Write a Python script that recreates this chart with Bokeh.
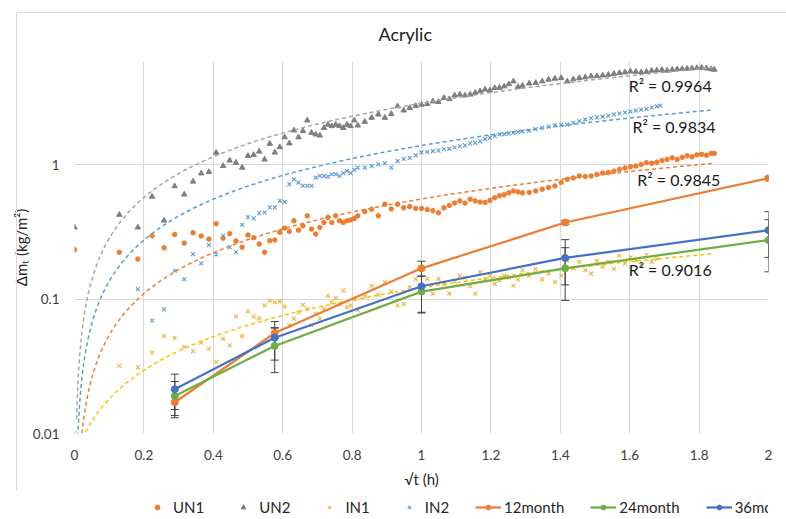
import numpy as np
from bokeh.plotting import figure
from bokeh.layouts import column
from bokeh.models import (ColumnDataSource, Range1d, FixedTicker, Legend, LegendItem,
                          Whisker, TeeHead, Label, InlineStyleSheet)
from bokeh.embed import file_html
from bokeh.resources import INLINE

# ---------------- data ----------------
# elapsed time in minutes; x axis is sqrt(t) with t in hours
un_minutes = list(range(0, 41)) + list(range(42, 101, 2)) + list(range(103, 203, 3)) + [204]
un1_vals = [0.234, 0.224, 0.199, 0.297, 0.242, 0.304, 0.262, 0.313, 0.296, 0.281,
            0.365, 0.285, 0.308, 0.272, 0.244, 0.301, 0.287, 0.258, 0.224, 0.273,
            0.276, 0.315, 0.339, 0.320, 0.384, 0.327, 0.352, 0.418, 0.333, 0.306,
            0.343, 0.373, 0.407, 0.373, 0.418, 0.384, 0.373, 0.384, 0.390, 0.400, 0.418,
            0.450, 0.469, 0.418, 0.511, 0.470, 0.510, 0.480, 0.490, 0.475, 0.475,
            0.465, 0.456, 0.440, 0.480, 0.500, 0.520, 0.540, 0.520, 0.556, 0.540,
            0.530, 0.526, 0.545, 0.570, 0.589, 0.600, 0.620, 0.641, 0.630, 0.620,
            0.625, 0.641, 0.660, 0.680, 0.698, 0.740, 0.783, 0.800, 0.829, 0.820,
            0.829, 0.850, 0.870, 0.878, 0.900, 0.929, 0.950, 0.970, 0.983, 1.010,
            1.040, 1.030, 1.050, 1.080, 1.100, 1.130, 1.100, 1.140, 1.170, 1.150,
            1.190, 1.200, 1.180, 1.220, 1.220]
un2_vals = [0.343, 0.426, 0.343, 0.582, 0.386, 0.695, 0.603, 0.753, 0.867, 0.887,
            1.236, 0.983, 1.08, 1.04, 0.956, 1.17, 1.19, 1.26, 1.10, 1.44,
            1.24, 1.36, 1.61, 1.45, 1.81, 1.61, 1.79, 2.15, 1.74, 1.69,
            1.66, 1.89, 2.00, 1.95, 2.00, 1.95, 1.89, 2.00, 1.95, 2.15, 1.97,
            2.10, 2.25, 2.38, 2.25, 2.40, 2.74, 2.55, 2.66, 2.75, 2.82,
            2.85, 2.98, 2.95, 3.16, 3.10, 3.30, 3.35, 3.30, 3.35, 3.45,
            3.55, 3.65, 3.60, 3.75, 3.76, 3.85, 4.00, 4.20, 3.82, 3.90,
            4.05, 4.09, 4.20, 4.33, 4.40, 4.45, 4.20, 4.35, 4.45, 4.50,
            4.58, 4.60, 4.65, 4.70, 4.78, 4.85, 4.90, 4.98, 4.95, 4.90,
            4.95, 5.05, 5.07, 5.10, 5.05, 5.13, 5.18, 5.20, 5.22, 5.25,
            5.28, 5.30, 5.25, 5.18, 5.13]

in1_minutes = list(range(0, 41)) + list(range(42, 101, 2)) + list(range(103, 170, 3))
in1_vals = [0.0101, 0.0319, 0.0311, 0.040, 0.0532, 0.0516, 0.0441, 0.0409, 0.0475, 0.0428,
            0.034, 0.0508, 0.0453, 0.0744, 0.0532, 0.0811, 0.0744, 0.072, 0.0898, 0.0978,
            0.095, 0.0965, 0.088, 0.0638, 0.0716, 0.080, 0.091, 0.085, 0.064, 0.078,
            0.0716, 0.085, 0.106, 0.095, 0.102, 0.092, 0.116, 0.087, 0.090, 0.100, 0.083,
            0.105, 0.126, 0.108, 0.134, 0.114, 0.090, 0.092, 0.123, 0.142, 0.120,
            0.142, 0.110, 0.142, 0.130, 0.110, 0.135, 0.150, 0.145, 0.125, 0.110,
            0.159, 0.142, 0.150, 0.130, 0.138, 0.150, 0.145, 0.126, 0.140, 0.164,
            0.150, 0.168, 0.140, 0.155, 0.134, 0.150, 0.194, 0.170, 0.190, 0.165,
            0.155, 0.194, 0.175, 0.190, 0.168, 0.211, 0.185, 0.205, 0.195, 0.180,
            0.213, 0.190, 0.200]

in2_minutes = list(range(2, 41)) + list(range(42, 101, 2)) + list(range(103, 170, 3)) + [171]
in2_vals = [0.119, 0.0695, 0.084, 0.163, 0.141, 0.217, 0.185, 0.253,
            0.216, 0.297, 0.244, 0.224, 0.359, 0.409, 0.400, 0.438, 0.443, 0.483,
            0.483, 0.541, 0.531, 0.719, 0.783, 0.740, 0.700, 0.700, 0.700, 0.806,
            0.830, 0.830, 0.820, 0.853, 0.853, 0.830, 0.870, 0.903, 0.870, 0.920, 0.956,
            0.956, 0.980, 1.010, 1.030, 0.956, 1.070, 1.110, 1.130, 1.180, 1.240,
            1.250, 1.270, 1.280, 1.310, 1.320, 1.350, 1.380, 1.400, 1.450, 1.460,
            1.500, 1.560, 1.600, 1.640, 1.690, 1.700, 1.720, 1.740, 1.760, 1.780,
            1.800, 1.850, 1.890, 1.930, 1.970, 1.990, 2.000, 2.060, 2.120, 2.180,
            2.230, 2.260, 2.290, 2.330, 2.380, 2.420, 2.460, 2.500, 2.540, 2.580,
            2.620, 2.680, 2.730, 2.770]

# linear trendlines (slope, intercept) and their reach on the x axis
trend_names = ["UN1", "UN2", "IN1", "IN2"]
trend_slope = [0.56, 2.89, 0.115, 1.40]
trend_intercept = [-0.002, -0.005, 0.0066, -0.004]
trend_xmax = [1.84, 1.84, 1.84, 1.84]
r2_labels = ["R² = 0.9845", "R² = 0.9964", "R² = 0.9016", "R² = 0.9834"]

# aged samples
month_x = [0.289, 0.577, 1.0, 1.414, 2.0]
m12_vals = [0.0171, 0.056, 0.170, 0.373, 0.797]
m12_err = [0.004, 0.005, 0.022, 0.012, 0.02]
m24_vals = [0.019, 0.0449, 0.114, 0.170, 0.276]
m24_err = [0.0054, 0.0165, 0.035, 0.072, 0.116]
m36_vals = [0.0214, 0.0517, 0.125, 0.203, 0.327]
m36_err = [0.0063, 0.0165, 0.045, 0.075, 0.122]

x_ticks = [0, 0.2, 0.4, 0.6, 0.8, 1, 1.2, 1.4, 1.6, 1.8, 2]
x_tick_labels = ["0", "0.2", "0.4", "0.6", "0.8", "1", "1.2", "1.4", "1.6", "1.8", "2"]
y_ticks = [0.01, 0.1, 1]
y_tick_labels = ["0.01", "0.1", "1"]

# ---------------- styling ----------------
FONT = "Lato"
C_ORANGE = "#ED7D31"
C_GRAY = "#7F7F7F"
C_GRAY_T = "#A5A5A5"
C_YELLOW = "#EDB43A"
C_YELLOW_T = "#FFC000"
C_LBLUE = "#5B9BD5"
C_GREEN = "#70AD47"
C_DBLUE = "#4472C4"

p = figure(width=786, height=490, x_range=Range1d(0, 2), y_range=Range1d(0.01, 5.9),
           y_axis_type="log", output_backend="svg", toolbar_location=None,
           min_border_left=74, min_border_right=18, min_border_top=61, min_border_bottom=56)
p.outline_line_color = None
p.background_fill_color = "white"
p.border_fill_color = "white"
p.stylesheets = [InlineStyleSheet(css=":host::after{content:'';position:absolute;left:16px;"
                                      "top:12px;right:-30px;bottom:-60px;border:1px solid #d9d9d9;"
                                      "pointer-events:none;}")]

p.title.text = "Acrylic"
p.title.align = "left"
p.title.offset = 304
p.title.text_font = FONT
p.title.text_font_size = "18px"
p.title.text_font_style = "normal"
p.title.text_color = "#1a1a1a"
p.title.standoff = 34

for ax in (p.xaxis[0], p.yaxis[0]):
    ax.axis_line_color = None
    ax.major_tick_line_color = None
    ax.minor_tick_line_color = None
    ax.major_tick_out = 0
    ax.major_tick_in = 0
    ax.major_label_text_font = FONT
    ax.major_label_text_font_size = "13.5px"
    ax.major_label_text_color = "#404040"
    ax.axis_label_text_font = FONT
    ax.axis_label_text_font_style = "normal"
    ax.axis_label_text_font_size = "15px"
    ax.axis_label_text_color = "#262626"

p.xaxis.ticker = FixedTicker(ticks=x_ticks)
p.xaxis.major_label_overrides = {t: l for t, l in zip(x_ticks, x_tick_labels)}
p.xaxis.major_label_standoff = 16
p.xaxis.axis_label = "√t (h)"
p.xaxis.axis_label_standoff = 7

p.yaxis.ticker = FixedTicker(ticks=y_ticks)
p.yaxis.major_label_overrides = {t: l for t, l in zip(y_ticks, y_tick_labels)}
p.yaxis.major_label_standoff = 15
p.yaxis.axis_label = "Δmₜ (kg/m²)"
p.yaxis.axis_label_standoff = 0

p.xgrid.grid_line_color = "#d9d9d9"
p.ygrid.grid_line_color = "#d9d9d9"
p.xgrid.minor_grid_line_color = None
p.ygrid.minor_grid_line_color = None

def sqrt_hours(minutes):
    return np.sqrt(np.array(minutes, dtype=float) / 60.0)

# scatter series
series_style = {
    "UN1": dict(marker="circle", size=4.5, fill_color=C_ORANGE, line_color=C_ORANGE, line_width=1),
    "UN2": dict(marker="triangle", size=5.5, fill_color=C_GRAY, line_color=C_GRAY, line_width=1),
    "IN1": dict(marker="x", size=5.5, fill_color=None, line_color=C_YELLOW, line_width=1.1),
    "IN2": dict(marker="x", size=5.5, fill_color=None, line_color=C_LBLUE, line_width=1.1),
}
p.scatter(sqrt_hours(un_minutes), un1_vals, **series_style["UN1"])
p.scatter(sqrt_hours(un_minutes), un2_vals, **series_style["UN2"])
p.scatter(sqrt_hours(in1_minutes), in1_vals, **series_style["IN1"])
p.scatter(sqrt_hours(in2_minutes), in2_vals, **series_style["IN2"])

# trendlines
trend_colors = [C_ORANGE, C_GRAY_T, C_YELLOW_T, C_LBLUE]
for s, c, xm, col in zip(trend_slope, trend_intercept, trend_xmax, trend_colors):
    xs = np.linspace(0.0, xm, 600)
    ys = s * xs + c
    keep = ys > 0.004
    p.line(xs[keep], ys[keep], line_color=col, line_width=1.5, line_dash="4 3")

# R² labels
label_pos = {"UN1": (1.622, 0.783), "UN2": (1.597, 3.906), "IN1": (1.597, 0.166), "IN2": (1.608, 1.94)}
for name, txt in zip(trend_names, r2_labels):
    lx, ly = label_pos[name]
    p.add_layout(Label(x=lx, y=ly, text=txt, text_baseline="middle", text_font=FONT,
                       text_font_size="16px", text_color="#1a1a1a"))

# aged series with error bars
month_series = [("12month", m12_vals, m12_err, C_ORANGE),
                ("24month", m24_vals, m24_err, C_GREEN),
                ("36month", m36_vals, m36_err, C_DBLUE)]
for name, vals, errs, col in month_series:
    src = ColumnDataSource(dict(x=month_x, y=vals,
                                upper=[v + e for v, e in zip(vals, errs)],
                                lower=[v - e for v, e in zip(vals, errs)]))
    w = Whisker(base="x", upper="upper", lower="lower", source=src, dimension="height",
                line_color="#404040", line_width=1,
                upper_head=TeeHead(size=8, line_color="#404040", line_width=1),
                lower_head=TeeHead(size=8, line_color="#404040", line_width=1))
    p.add_layout(w)
    p.line("x", "y", source=src, line_color=col, line_width=2.25)
    p.scatter("x", "y", source=src, marker="circle", size=7, color=col)

# ---------------- legend strip (separate small figure below the chart) ----------------
lf = figure(width=786, height=29, x_range=Range1d(0, 1), y_range=Range1d(0, 1),
            output_backend="svg", toolbar_location=None,
            x_axis_location=None, y_axis_location=None,
            min_border_left=0, min_border_right=0, min_border_top=0, min_border_bottom=0)
lf.outline_line_color = None
lf.grid.visible = False
lf.background_fill_color = "white"
lf.border_fill_color = "white"

items = []
for name in ["UN1", "UN2", "IN1", "IN2"]:
    r = lf.scatter([-10], [-10], **series_style[name])
    items.append(LegendItem(label=name, renderers=[r]))
for name, vals, errs, col in month_series:
    ln = lf.line([-10, -9], [-10, -9], line_color=col, line_width=2.25)
    mk = lf.scatter([-10], [-10], marker="circle", size=5, color=col)
    items.append(LegendItem(label=name, renderers=[ln, mk]))

legend = Legend(items=items, orientation="horizontal", location=(70, 3),
                glyph_width=26, glyph_height=12, label_height=12, label_standoff=3, spacing=26,
                padding=0, margin=0, border_line_color=None, background_fill_alpha=0,
                label_text_font=FONT, label_text_font_size="15px",
                label_text_color="#262626")
lf.add_layout(legend)

layout = column(p, lf, spacing=0)
open("out.html", "w").write(file_html(layout, INLINE))
